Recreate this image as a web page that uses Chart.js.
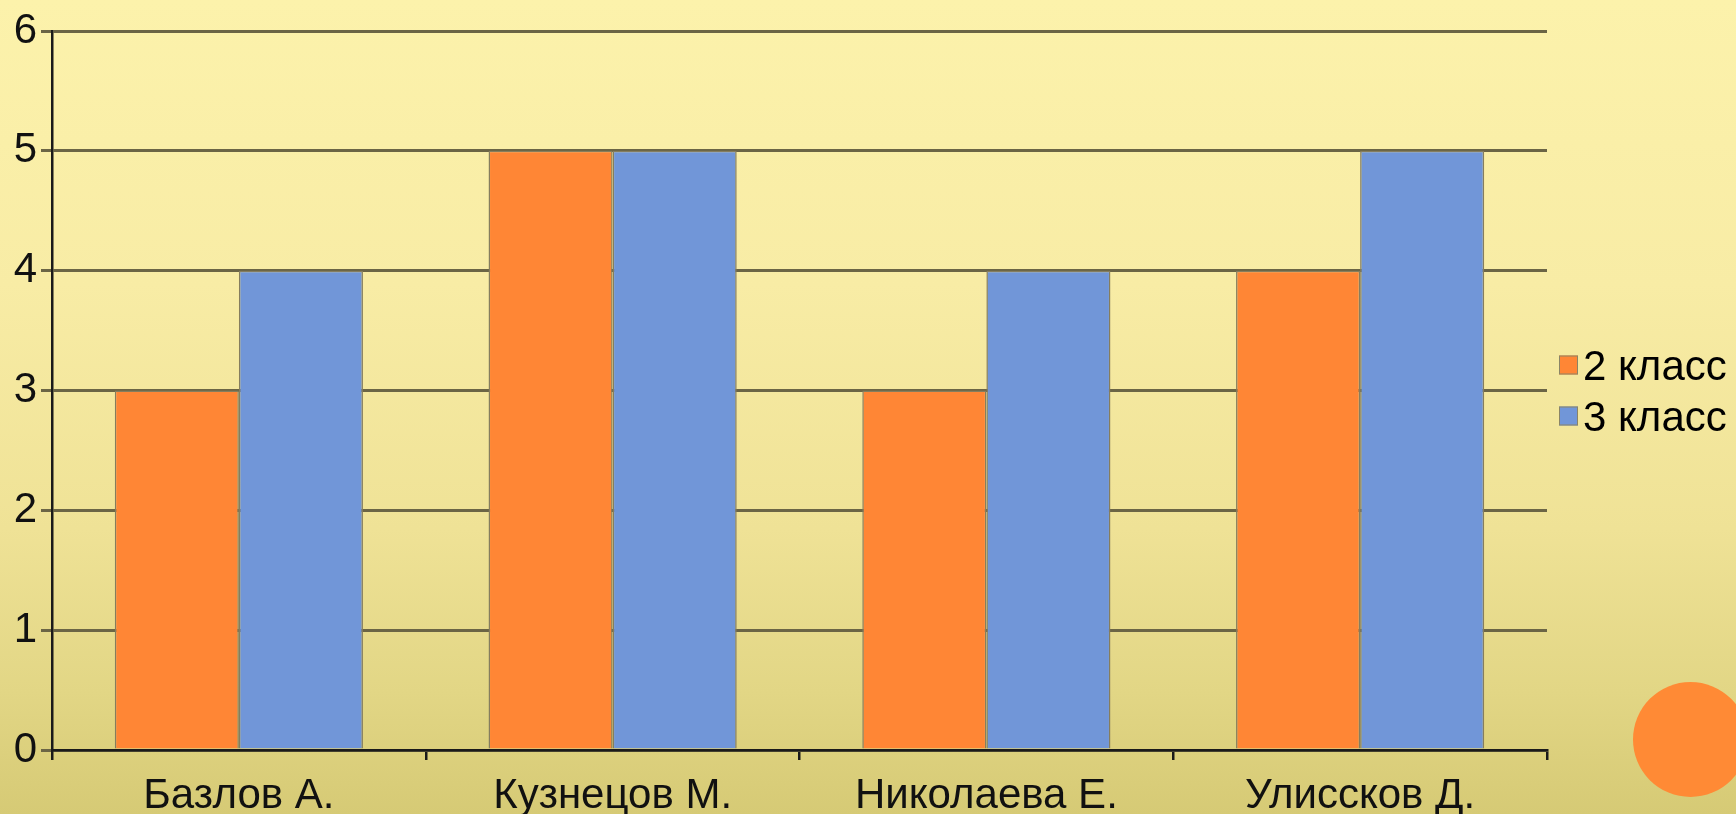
<!DOCTYPE html>
<html>
<head>
<meta charset="utf-8">
<script src="https://cdn.jsdelivr.net/npm/chart.js@4"></script>
<style>
  html, body { margin: 0; padding: 0; }
  body { width: 1736px; height: 814px; overflow: hidden;
    background: linear-gradient(to bottom, #fcf2ab 0%, #f8eca5 35%, #efe296 65%, #e2d685 85%, #d6ca75 100%); position: relative; }
  #wrap { position: absolute; left: 0; top: 0; width: 1736px; height: 814px; }
  #dot { position: absolute; left: 1633px; top: 682px; width: 115px; height: 115px; border-radius: 50%; background: #ff8a35; }
</style>
</head>
<body>
<div id="wrap"><canvas id="c" width="1736" height="814"></canvas></div>
<div id="dot"></div>
<script>
const categories = ['Базлов А.', 'Кузнецов М.', 'Николаева Е.', 'Улиссков Д.'];
const seriesLabels = ['2 класс', '3 класс'];
const class2Values = [3, 5, 3, 4];
const class3Values = [4, 5, 4, 5];
const yTickValues = [0, 1, 2, 3, 4, 5, 6];

const FONT = '"Liberation Sans", Arial, sans-serif';

const legendPlugin = {
  id: 'sideLegend',
  afterDraw(chart) {
    const ctx = chart.ctx;
    const area = chart.chartArea;
    const mid = (area.top + area.bottom) / 2;
    const n = chart.data.datasets.length;
    const rowH = 51;
    ctx.save();
    ctx.font = '42px ' + FONT;
    ctx.textBaseline = 'alphabetic';
    ctx.textAlign = 'left';
    chart.data.datasets.forEach((ds, i) => {
      const cy = mid + (i - (n - 1) / 2) * rowH;
      const bx = area.right + 12;
      ctx.fillStyle = ds.backgroundColor;
      ctx.fillRect(bx, cy - 9.5, 19, 19);
      ctx.strokeStyle = '#8a8466';
      ctx.lineWidth = 1;
      ctx.strokeRect(bx + 0.5, cy - 9, 18, 18);
      ctx.fillStyle = '#000';
      ctx.fillText(ds.label, bx + 24, cy + 15);
    });
    ctx.restore();
  }
};

new Chart(document.getElementById('c'), {
  type: 'bar',
  data: {
    labels: categories,
    datasets: [
      { label: seriesLabels[0], data: class2Values, backgroundColor: '#ff8635', borderColor: '#857d5e', borderWidth: 1.5 },
      { label: seriesLabels[1], data: class3Values, backgroundColor: '#7196d8', borderColor: '#857d5e', borderWidth: 1.5 }
    ]
  },
  options: {
    responsive: false,
    animation: false,
    devicePixelRatio: 1,
    layout: { padding: { left: 12, right: 189, top: 31, bottom: 0 } },
    datasets: { bar: { categoryPercentage: 0.664, barPercentage: 1.0 } },
    plugins: { legend: { display: false }, tooltip: { enabled: false } },
    scales: {
      x: {
        afterFit(scale) { scale.height = 64; },
        grid: { offset: true, drawOnChartArea: false, drawTicks: true, tickLength: 10, color: '#1a1a1a', lineWidth: 2.5 },
        border: { display: true, color: '#1a1a1a', width: 2.5 },
        ticks: { color: '#111', font: { family: FONT, size: 42 }, padding: 11, maxRotation: 0, autoSkip: false }
      },
      y: {
        min: yTickValues[0],
        max: yTickValues[yTickValues.length - 1],
        afterFit(scale) { scale.width = 40; },
        afterBuildTicks(scale) { scale.ticks = yTickValues.map(v => ({ value: v })); },
        grid: { color: '#6b6545', lineWidth: 3, tickLength: 11, drawTicks: true },
        border: { display: true, color: '#1a1a1a', width: 2.5 },
        ticks: { color: '#111', font: { family: FONT, size: 42 }, padding: 4, stepSize: 1 }
      }
    }
  },
  plugins: [legendPlugin]
});
</script>
</body>
</html>
